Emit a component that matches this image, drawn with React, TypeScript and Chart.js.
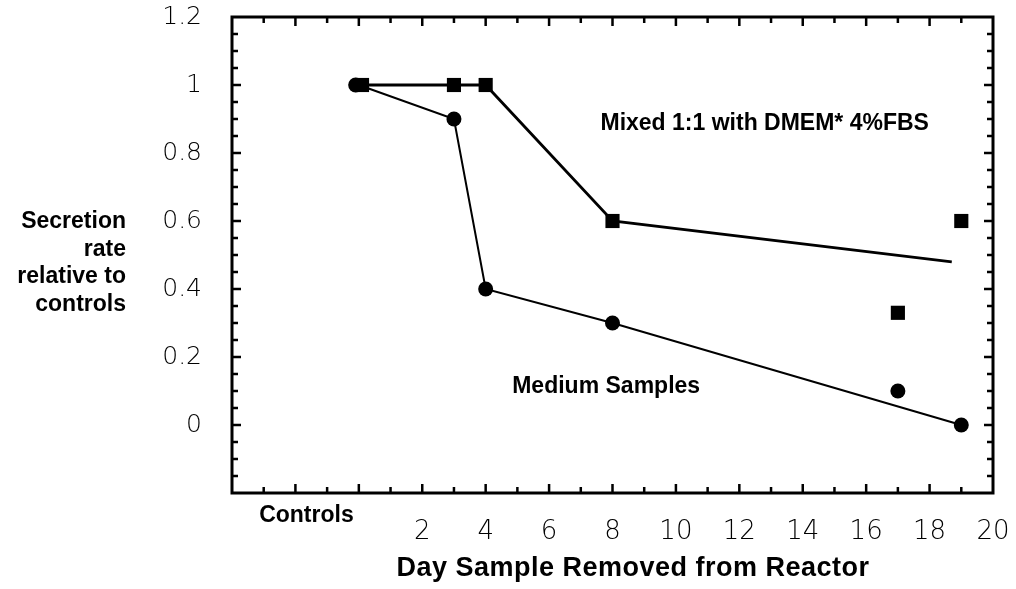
import React, { useEffect, useRef } from "react";
import { Chart, registerables } from "chart.js";

Chart.register(...registerables);

// Secretion rate relative to controls, by day the sample was removed
const mixedDays = [0.1, 3, 4, 8, 17, 19];
const mixedRates = [1, 1, 1, 0.6, 0.33, 0.6];
const mixedFitDays = [0, 3, 4, 8, 18.7];
const mixedFitRates = [1, 1, 1, 0.6, 0.48];

const mediumDays = [-0.1, 3, 4, 8, 17, 19];
const mediumRates = [1, 0.9, 0.4, 0.3, 0.1, 0];
const mediumFitDays = [0, 3, 4, 8, 19];
const mediumFitRates = [1, 0.9, 0.4, 0.3, 0];

const xTickDays = [2, 4, 6, 8, 10, 12, 14, 16, 18, 20];
const yTickValues = [0, 0.2, 0.4, 0.6, 0.8, 1, 1.2];
const yTickLabels = ["0", "0.2", "0.4", "0.6", "0.8", "1", "1.2"];
const controlsLabel = "Controls";
const controlsDay = -2;

const xTitle = "Day Sample Removed from Reactor";
const yTitleLines = ["Secretion", "rate", "relative to", "controls"];

const noteTexts = ["Mixed 1:1 with DMEM* 4%FBS", "Medium Samples"];
const noteDays = [12.8, 7.8];
const noteRates = [0.885, 0.112];

const toPoints = (xs: number[], ys: number[]) =>
  xs.map((x, i) => ({ x, y: ys[i] }));

const BOLD = "'Liberation Sans', Arial, sans-serif";
const THIN = "'DejaVu Sans', sans-serif";

const framePlugin = {
  id: "frameAndText",
  afterDraw(chart: any) {
    const { ctx, chartArea: a, scales } = chart;
    const xs = scales.x;
    const ys = scales.y;
    ctx.save();
    ctx.strokeStyle = "#000";
    ctx.fillStyle = "#000";

    // frame
    ctx.lineWidth = 3;
    ctx.strokeRect(a.left, a.top, a.right - a.left, a.bottom - a.top);

    // x ticks, inward on top and bottom
    ctx.lineWidth = 2.5;
    for (let d = Math.ceil(xs.min) + 1; d < xs.max; d++) {
      const px = xs.getPixelForValue(d);
      const len = d % 2 === 0 ? 9 : 6;
      ctx.beginPath();
      ctx.moveTo(px, a.bottom);
      ctx.lineTo(px, a.bottom - len);
      ctx.moveTo(px, a.top);
      ctx.lineTo(px, a.top + len);
      ctx.stroke();
    }
    // y ticks, inward on left and right
    const kMin = Math.round(ys.min / 0.05);
    const kMax = Math.round(ys.max / 0.05);
    for (let k = kMin + 1; k < kMax; k++) {
      const py = ys.getPixelForValue(k * 0.05);
      const len = k % 4 === 0 ? 9 : 6;
      ctx.beginPath();
      ctx.moveTo(a.left, py);
      ctx.lineTo(a.left + len, py);
      ctx.moveTo(a.right, py);
      ctx.lineTo(a.right - len, py);
      ctx.stroke();
    }

    // tick labels
    ctx.textBaseline = "middle";
    ctx.font = `200 25px ${THIN}`;
    ctx.textAlign = "right";
    yTickValues.forEach((v, i) => {
      ctx.fillText(yTickLabels[i], a.left - 30, ys.getPixelForValue(v));
    });
    ctx.font = `200 26px ${THIN}`;
    ctx.textAlign = "center";
    xTickDays.forEach((d) => {
      ctx.fillText(String(d), xs.getPixelForValue(d), a.bottom + 39);
    });

    // bold labels
    ctx.font = `bold 23px ${BOLD}`;
    ctx.fillText(controlsLabel, xs.getPixelForValue(controlsDay) + 11, a.bottom + 23);
    noteTexts.forEach((t, i) => {
      ctx.fillText(t, xs.getPixelForValue(noteDays[i]), ys.getPixelForValue(noteRates[i]));
    });
    ctx.textAlign = "right";
    yTitleLines.forEach((t, i) => {
      ctx.fillText(t, 126, 222 + i * 27.5);
    });
    ctx.textAlign = "center";
    ctx.font = `bold 27px ${BOLD}`;
    (ctx as any).letterSpacing = "0.5px";
    ctx.fillText(xTitle, 633, a.bottom + 76);
    ctx.restore();
  },
};

export default function App() {
  const canvasRef = useRef<HTMLCanvasElement | null>(null);

  useEffect(() => {
    const canvas = canvasRef.current;
    if (!canvas) return;
    const chart = new Chart(canvas, {
      type: "scatter",
      data: {
        datasets: [
          {
            label: "Mixed fit",
            data: toPoints(mixedFitDays, mixedFitRates),
            showLine: true,
            borderColor: "#000",
            borderWidth: 2.8,
            pointRadius: 0,
          },
          {
            label: "Medium fit",
            data: toPoints(mediumFitDays, mediumFitRates),
            showLine: true,
            borderColor: "#000",
            borderWidth: 2,
            pointRadius: 0,
          },
          {
            label: "Mixed 1:1 with DMEM* 4%FBS",
            data: toPoints(mixedDays, mixedRates),
            showLine: false,
            pointStyle: "rect",
            pointRadius: 10,
            backgroundColor: "#000",
            borderColor: "#000",
            borderWidth: 0,
          },
          {
            label: "Medium Samples",
            data: toPoints(mediumDays, mediumRates),
            showLine: false,
            pointStyle: "circle",
            pointRadius: 7.5,
            backgroundColor: "#000",
            borderColor: "#000",
            borderWidth: 0,
          },
        ],
      },
      options: {
        responsive: false,
        animation: false,
        layout: { padding: { left: 232, top: 17, right: 23, bottom: 96 } },
        plugins: {
          legend: { display: false },
          tooltip: { enabled: false },
        },
        scales: {
          x: { type: "linear", min: -4, max: 20, display: false },
          y: { type: "linear", min: -0.2, max: 1.2, display: false },
        },
      },
      plugins: [framePlugin],
    });
    return () => chart.destroy();
  }, []);

  return (
    <div style={{ position: "absolute", left: 0, top: 0, width: 1016, height: 589, background: "#fff" }}>
      <canvas ref={canvasRef} width={1016} height={589} />
    </div>
  );
}
